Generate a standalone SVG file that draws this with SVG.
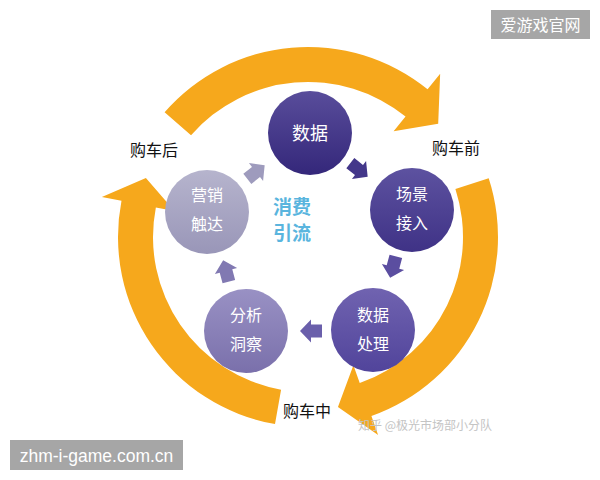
<svg xmlns="http://www.w3.org/2000/svg" xmlns:xlink="http://www.w3.org/1999/xlink" width="600" height="480" viewBox="0 0 600 480">
<style>
.ring{fill:#f6a81c;}
.nt{font-family:"Noto Sans CJK SC","Noto Sans",sans-serif;font-size:16px;fill:#ffffff;text-anchor:middle;}
.lbl{font-family:"Noto Sans CJK SC","Noto Sans",sans-serif;font-size:16px;fill:#111111;text-anchor:middle;}
.mid{font-family:"Noto Sans CJK SC","Noto Sans",sans-serif;font-size:19px;font-weight:bold;fill:#5ab5de;text-anchor:middle;}
.wm{font-family:"Noto Sans CJK SC","Noto Sans",sans-serif;fill:#ffffff;}
</style>
<defs>
<linearGradient id="g1" x1="0" y1="0" x2="0" y2="1"><stop offset="0" stop-color="#594d9b"/><stop offset="1" stop-color="#34277a"/></linearGradient>
<linearGradient id="g2" x1="0" y1="0" x2="0" y2="1"><stop offset="0" stop-color="#5d52a0"/><stop offset="1" stop-color="#3f3286"/></linearGradient>
<linearGradient id="g3" x1="0" y1="0" x2="0" y2="1"><stop offset="0" stop-color="#7063b0"/><stop offset="1" stop-color="#51449b"/></linearGradient>
<linearGradient id="g4" x1="0" y1="0" x2="0" y2="1"><stop offset="0" stop-color="#9991c4"/><stop offset="1" stop-color="#7a70ab"/></linearGradient>
<linearGradient id="g5" x1="0" y1="0" x2="0" y2="1"><stop offset="0" stop-color="#b6b4cd"/><stop offset="1" stop-color="#9996b8"/></linearGradient>
<path id="blk" d="M-11,-6.5 L0,-6.5 L0,-11.5 L11,0 L0,11.5 L0,6.5 L-11,6.5 Z"/>
</defs>
<rect width="600" height="480" fill="#ffffff"/>

<g id="connectors">
<path id="cycle-top" class="ring" d="M164.61,112.35 A190,190 0 0 1 427.57,89.34 L440.16,73.80 L438.19,123.83 L393.59,131.31 L405.54,116.54 A155,155 0 0 0 191.02,135.31 Z"/>
<path id="cycle-right" class="ring" d="M488.70,178.29 A190,190 0 0 1 371.42,416.10 L378.10,434.95 L337.95,406.88 L353.40,365.20 L359.74,383.11 A155,155 0 0 0 455.41,189.10 Z"/>
<path id="cycle-left" class="ring" d="M275.01,424.11 A190,190 0 0 1 121.49,200.75 L101.86,196.93 L145.90,178.00 L174.50,211.05 L155.85,207.42 A155,155 0 0 0 281.08,389.65 Z"/>
<use xlink:href="#blk" href="#blk" fill="#9e9bbd" transform="translate(256,172) rotate(-38)"/>
<use xlink:href="#blk" href="#blk" fill="#43378a" transform="translate(359,170) rotate(38)"/>
<use xlink:href="#blk" href="#blk" fill="#5b4ea0" transform="translate(393,267) rotate(105)"/>
<use xlink:href="#blk" href="#blk" fill="#6a5fab" transform="translate(311,331) rotate(180)"/>
<use xlink:href="#blk" href="#blk" fill="#8179b2" transform="translate(226,271) rotate(-105)"/>
</g>

<g id="node-data">
<circle cx="310" cy="133" r="42" fill="url(#g1)"/>
<text class="nt" x="310" y="140" style="font-size:18px">数据</text>
</g>
<g id="node-scene">
<circle cx="412" cy="210" r="42" fill="url(#g2)"/>
<text class="nt" x="412" y="200">场景</text>
<text class="nt" x="412" y="229">接入</text>
</g>
<g id="node-process">
<circle cx="373" cy="330" r="42" fill="url(#g3)"/>
<text class="nt" x="373" y="321">数据</text>
<text class="nt" x="373" y="350">处理</text>
</g>
<g id="node-analysis">
<circle cx="246" cy="331" r="42" fill="url(#g4)"/>
<text class="nt" x="246" y="321">分析</text>
<text class="nt" x="246" y="350">洞察</text>
</g>
<g id="node-marketing">
<circle cx="207" cy="212" r="42" fill="url(#g5)"/>
<text class="nt" x="207" y="201">营销</text>
<text class="nt" x="207" y="230">触达</text>
</g>

<g id="center-label">
<text class="mid" x="292" y="214">消费</text>
<text class="mid" x="292" y="240">引流</text>
</g>

<g id="stage-labels">
<text class="lbl" x="154" y="156">购车后</text>
<text class="lbl" x="456" y="154">购车前</text>
<text class="lbl" x="307" y="417">购车中</text>
</g>

<text x="358" y="430" font-family="'Noto Sans CJK SC','Noto Sans',sans-serif" font-size="12" fill="#c4c4c4">知乎 @极光市场部小分队</text>

<g id="watermark-top">
<rect x="491" y="10" width="99" height="29" fill="#a6a6a6"/>
<text class="wm" x="540.5" y="31" font-size="16" text-anchor="middle">爱游戏官网</text>
</g>
<g id="watermark-bottom">
<rect x="10" y="440" width="173" height="30" fill="#a6a6a6"/>
<text x="96.5" y="462" font-family="'Liberation Sans',Arial,sans-serif" font-size="17.5" fill="#ffffff" text-anchor="middle">zhm-i-game.com.cn</text>
</g>
</svg>
